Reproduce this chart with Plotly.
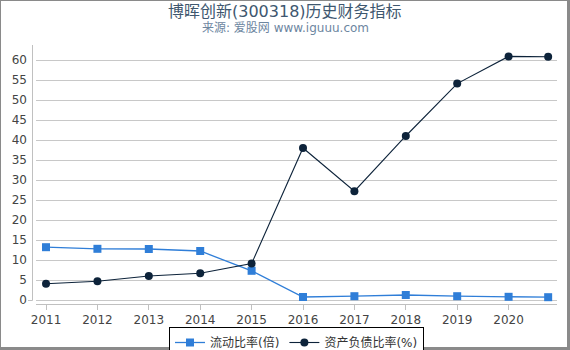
import plotly.graph_objects as go

x_pos = [2011, 2012, 2013, 2014, 2015, 2016, 2017, 2018, 2019, 2020, 2020.77]
tick_years = [2011, 2012, 2013, 2014, 2015, 2016, 2017, 2018, 2019, 2020]
tick_labels = ["2011", "2012", "2013", "2014", "2015", "2016", "2017", "2018", "2019", "2020"]
current_ratio = [13.2, 12.8, 12.75, 12.25, 7.3, 0.75, 0.95, 1.25, 0.95, 0.8, 0.7]
debt_ratio = [4.05, 4.7, 6.0, 6.7, 9.1, 38.0, 27.2, 41.0, 54.1, 60.9, 60.8]
series_names = ["流动比率(倍)", "资产负债比率(%)"]
y_ticks = [0, 5, 10, 15, 20, 25, 30, 35, 40, 45, 50, 55, 60]

FONT = "DejaVu Sans, Noto Sans CJK SC, sans-serif"

fig = go.Figure()
fig.add_trace(go.Scatter(
    x=x_pos, y=current_ratio, name=series_names[0], mode="lines+markers",
    line=dict(color="#2f7ed8", width=1.3),
    marker=dict(symbol="square", size=8, color="#2f7ed8"),
))
fig.add_trace(go.Scatter(
    x=x_pos, y=debt_ratio, name=series_names[1], mode="lines+markers",
    line=dict(color="#0d233a", width=1.1),
    marker=dict(symbol="circle", size=8, color="#0d233a"),
))

L, R, T, B = 36, 13, 45, 46
W, H = 570, 350
pw, ph = W - L - R, H - T - B

def px(x):
    return (x - L) / pw

def py(y):
    return (H - B - y) / ph

frame = "#8a8a8a"
shapes = [
    dict(type="line", xref="paper", yref="paper", x0=px(0), x1=px(570), y0=py(0.5), y1=py(0.5), line=dict(color=frame, width=1)),
    dict(type="line", xref="paper", yref="paper", x0=px(0.5), x1=px(0.5), y0=py(0), y1=py(350), line=dict(color=frame, width=1)),
    dict(type="line", xref="paper", yref="paper", x0=px(568.5), x1=px(568.5), y0=py(0), y1=py(350), line=dict(color=frame, width=3)),
    dict(type="line", xref="paper", yref="paper", x0=px(0), x1=px(570), y0=py(348.5), y1=py(348.5), line=dict(color=frame, width=3)),
    dict(type="line", xref="paper", yref="paper", x0=px(32.5), x1=px(32.5), y0=py(45), y1=py(300.5), line=dict(color="#c0c0c0", width=1)),
    dict(type="line", xref="paper", yref="paper", x0=px(28), x1=px(32.5), y0=py(300.5), y1=py(300.5), line=dict(color="#c0c0c0", width=1)),
]

fig.update_layout(
    width=W, height=H,
    margin=dict(l=L, r=R, t=T, b=B, autoexpand=False),
    paper_bgcolor="white", plot_bgcolor="white",
    font=dict(family=FONT, size=12, color="#444444"),
    showlegend=True,
    legend=dict(
        orientation="h", x=0.5, xanchor="center", y=py(327), yanchor="top",
        bordercolor="#000000", borderwidth=1, bgcolor="white",
        font=dict(family=FONT, size=12, color="#333333"),
        itemwidth=30, tracegroupgap=0,
    ),
    xaxis=dict(
        range=[2010.805, 2020.942], tickvals=tick_years, ticktext=tick_labels,
        showgrid=False, zeroline=False, showline=True, linecolor="#c0c0c0", linewidth=1,
        ticks="outside", ticklen=5, tickcolor="#c0c0c0", automargin=False,
        tickfont=dict(family=FONT, size=12, color="#444444"),
    ),
    yaxis=dict(
        range=[-1, 63.75], tickvals=y_ticks,
        showgrid=True, gridcolor="#c8c8c8", gridwidth=1, zeroline=False, showline=False,
        ticks="", ticklabelstandoff=8, automargin=False,
        tickfont=dict(family=FONT, size=12, color="#444444"),
    ),
    shapes=shapes,
    annotations=[
        dict(text="博晖创新(300318)历史财务指标", xref="paper", yref="paper", x=px(285), y=py(11),
             xanchor="center", yanchor="middle", showarrow=False,
             font=dict(family=FONT, size=16, color="#3e576f")),
        dict(text="来源: 爱股网 www.iguuu.com", xref="paper", yref="paper", x=px(285), y=py(28),
             xanchor="center", yanchor="middle", showarrow=False,
             font=dict(family=FONT, size=12, color="#6d869f")),
    ],
)

fig.write_html("out.html")
